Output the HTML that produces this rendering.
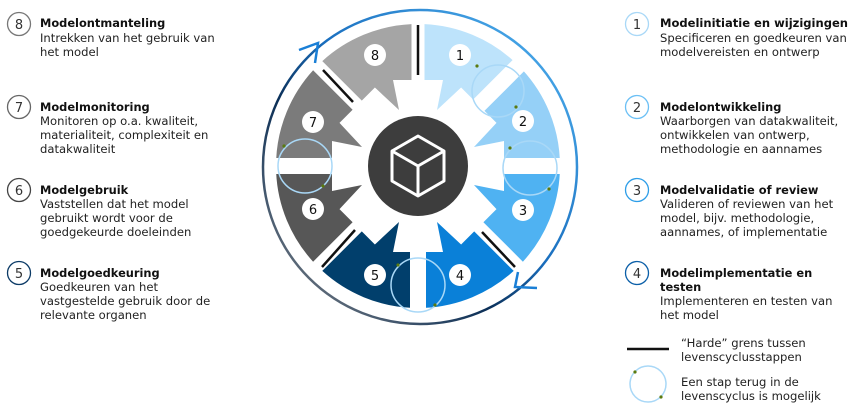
<!DOCTYPE html>
<html><head><meta charset="utf-8"><style>
html,body{margin:0;padding:0;background:#fff;width:856px;height:411px;overflow:hidden}
svg{display:block}
.t{font-family:"DejaVu Sans","Liberation Sans",sans-serif;font-size:11.6px;fill:#222}
.b{font-weight:bold;font-size:11.4px;fill:#111}
.n{font-family:"DejaVu Sans","Liberation Sans",sans-serif;font-size:13px;fill:#333;text-anchor:middle}
.sn{font-family:"DejaVu Sans","Liberation Sans",sans-serif;font-size:13px;fill:#111;text-anchor:middle}
</style></head><body>
<svg width="856" height="411" viewBox="0 0 856 411" xmlns="http://www.w3.org/2000/svg">
<defs>
<linearGradient id="rg" x1="1" y1="0" x2="0" y2="1">
<stop offset="0" stop-color="#55b8f5"/><stop offset="0.45" stop-color="#1a6fbf"/><stop offset="0.62" stop-color="#0b2f57"/><stop offset="1" stop-color="#8a8a8a"/>
</linearGradient>
<path id="seg" d="M6.5,-141.85 A142 142 0 0 1 95.7,-104.9 L56.2,-65.4 L43.1,-78.5 L19,-56 L25,-86 L6.5,-86 Z"/>
</defs>
<circle cx="420" cy="167" r="157" fill="none" stroke="url(#rg)" stroke-width="2.5"/>
<polyline points="299,50 318,43 315,63" fill="none" stroke="#1a7fd6" stroke-width="2.5"/>
<polyline points="537,288 515,287 518,272" fill="none" stroke="#1a7fd6" stroke-width="2.5"/>
<g transform="translate(418,166)">
<use href="#seg" fill="#bde3fb"/>
<use href="#seg" fill="#95d0f7" transform="rotate(90) scale(-1,1)"/>
<use href="#seg" fill="#4fb2f2" transform="rotate(90)"/>
<use href="#seg" fill="#0a80d8" transform="rotate(180) scale(-1,1)"/>
<use href="#seg" fill="#013f6c" transform="rotate(180)"/>
<use href="#seg" fill="#575757" transform="rotate(270) scale(-1,1)"/>
<use href="#seg" fill="#7b7b7b" transform="rotate(270)"/>
<use href="#seg" fill="#a5a5a5" transform="scale(-1,1)"/>
<g fill="#fff">
<rect x="-8" y="-146" width="16" height="70" transform="rotate(45)"/>
<rect x="-8" y="-146" width="16" height="70" transform="rotate(90)"/>
<rect x="-8" y="-146" width="16" height="70" transform="rotate(180)"/>
<rect x="-8" y="-146" width="16" height="70" transform="rotate(270)"/>
</g>
</g>
<circle cx="418" cy="166" r="50" fill="#3d3d3d"/>
<g fill="none" stroke="#fff" stroke-width="3" stroke-linejoin="round">
<polygon points="418,136 444,151 444,181 418,196 392,181 392,151"/>
<polyline points="392,151 418,166 444,151"/><line x1="418" y1="166" x2="418" y2="196"/>
</g>
<g stroke="#111" stroke-width="2.5">
<line x1="418" y1="25" x2="418" y2="75"/>
<line x1="323" y1="70" x2="353" y2="102"/>
<line x1="482" y1="232" x2="515" y2="267"/>
<line x1="322" y1="267" x2="355" y2="230"/>
</g>
<g fill="none" stroke="#a9d8f7" stroke-width="1.5">
<circle cx="498" cy="91" r="26"/><circle cx="530" cy="168" r="27"/>
<circle cx="418" cy="285" r="27"/><circle cx="305" cy="166" r="27"/>
</g>
<g fill="#5a7a10">
<circle cx="477" cy="66" r="1.6"/><circle cx="516" cy="107" r="1.6"/>
<circle cx="510" cy="148" r="1.6"/><circle cx="549" cy="189" r="1.6"/>
<circle cx="398" cy="265" r="1.6"/><circle cx="435" cy="305" r="1.6"/>
<circle cx="284" cy="146" r="1.6"/><circle cx="323" cy="186" r="1.6"/>
</g>
<g fill="#fff">
<circle cx="460" cy="55" r="11"/><circle cx="523" cy="121" r="11"/><circle cx="523" cy="210" r="11"/><circle cx="460" cy="275" r="11"/>
<circle cx="375" cy="275" r="11"/><circle cx="313" cy="209" r="11"/><circle cx="313" cy="122" r="11"/><circle cx="375" cy="55" r="11"/>
</g>
<text class="sn" x="460" y="60">1</text><text class="sn" x="523" y="126">2</text><text class="sn" x="523" y="215">3</text><text class="sn" x="460" y="280">4</text>
<text class="sn" x="375" y="280">5</text><text class="sn" x="313" y="214">6</text><text class="sn" x="313" y="127">7</text><text class="sn" x="375" y="60">8</text>
<g fill="#fff" stroke-width="1.3">
<circle cx="19" cy="24" r="11.5" stroke="#777"/><circle cx="19" cy="107" r="11.5" stroke="#666"/>
<circle cx="19" cy="190" r="11.5" stroke="#444"/><circle cx="19" cy="273" r="11.5" stroke="#0b3a66"/>
<circle cx="637" cy="24" r="11.5" stroke="#a9d8f7"/><circle cx="637" cy="107" r="11.5" stroke="#6cc0f5"/>
<circle cx="637" cy="190" r="11.5" stroke="#2e9ee8"/><circle cx="637" cy="273" r="11.5" stroke="#0b5fa8"/>
</g>
<text class="n" x="19" y="29">8</text><text class="n" x="19" y="112">7</text><text class="n" x="19" y="195">6</text><text class="n" x="19" y="278">5</text>
<text class="n" x="637" y="29">1</text><text class="n" x="637" y="112">2</text><text class="n" x="637" y="195">3</text><text class="n" x="637" y="278">4</text>

<text class="t b" x="40" y="27">Modelontmanteling</text>
<text class="t" x="40" y="42">Intrekken van het gebruik van</text>
<text class="t" x="40" y="56">het model</text>

<text class="t b" x="40" y="111">Modelmonitoring</text>
<text class="t" x="40" y="125">Monitoren op o.a. kwaliteit,</text>
<text class="t" x="40" y="139">materialiteit, complexiteit en</text>
<text class="t" x="40" y="153">datakwaliteit</text>

<text class="t b" x="40" y="194">Modelgebruik</text>
<text class="t" x="40" y="208">Vaststellen dat het model</text>
<text class="t" x="40" y="222">gebruikt wordt voor de</text>
<text class="t" x="40" y="236">goedgekeurde doeleinden</text>

<text class="t b" x="40" y="277">Modelgoedkeuring</text>
<text class="t" x="40" y="291">Goedkeuren van het</text>
<text class="t" x="40" y="305">vastgestelde gebruik door de</text>
<text class="t" x="40" y="319">relevante organen</text>

<text class="t b" x="660" y="27" textLength="188" lengthAdjust="spacingAndGlyphs">Modelinitiatie en wijzigingen</text>
<text class="t" x="660" y="42">Specificeren en goedkeuren van</text>
<text class="t" x="660" y="56">modelvereisten en ontwerp</text>

<text class="t b" x="660" y="111">Modelontwikkeling</text>
<text class="t" x="660" y="125">Waarborgen van datakwaliteit,</text>
<text class="t" x="660" y="139">ontwikkelen van ontwerp,</text>
<text class="t" x="660" y="153">methodologie en aannames</text>

<text class="t b" x="660" y="194">Modelvalidatie of review</text>
<text class="t" x="660" y="208">Valideren of reviewen van het</text>
<text class="t" x="660" y="222">model, bijv. methodologie,</text>
<text class="t" x="660" y="236">aannames, of implementatie</text>

<text class="t b" x="660" y="277">Modelimplementatie en</text>
<text class="t b" x="660" y="291">testen</text>
<text class="t" x="660" y="305">Implementeren en testen van</text>
<text class="t" x="660" y="319">het model</text>

<line x1="627" y1="349" x2="669" y2="349" stroke="#111" stroke-width="2.5"/>
<text class="t" x="681" y="347">“Harde” grens tussen</text>
<text class="t" x="681" y="361">levenscyclusstappen</text>
<circle cx="648" cy="384" r="18" fill="none" stroke="#a9d8f7" stroke-width="1.5"/>
<circle cx="635" cy="372" r="1.6" fill="#5a7a10"/><circle cx="661" cy="397" r="1.6" fill="#5a7a10"/>
<text class="t" x="681" y="386">Een stap terug in de</text>
<text class="t" x="681" y="400">levenscyclus is mogelijk</text>
</svg>
</body></html>
